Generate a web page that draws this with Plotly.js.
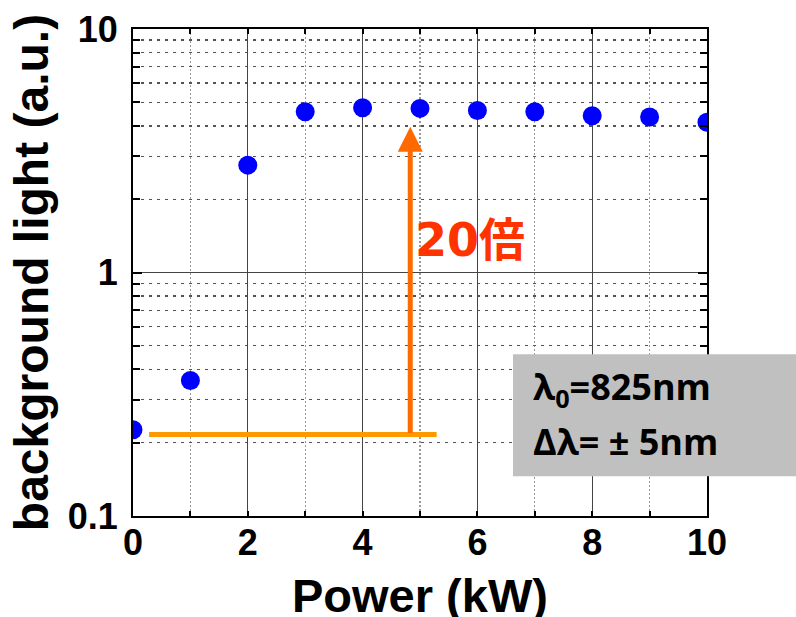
<!DOCTYPE html>
<html>
<head>
<meta charset="utf-8">
<script src="https://cdn.plot.ly/plotly-3.0.1.min.js"></script>
<style>
  html, body { margin: 0; padding: 0; background: #ffffff; }
  #chart { width: 796px; height: 617px; }
</style>
</head>
<body>
<div id="chart"></div>
<script>
// Background light versus laser power (log scale)
const powerKW = [0, 1, 2, 3, 4, 5, 6, 7, 8, 9, 10];
const backgroundLight = [0.226, 0.36, 2.76, 4.57, 4.75, 4.72, 4.63, 4.57, 4.40, 4.35, 4.14];

// Reference level at 0 kW and the ×20 rise arrow
const baseLineX = [0.28, 5.29];
const baseLineY = [0.216, 0.216];
const riseArrowX = 4.83;
const riseArrowY = [0.216, 3.97];
const riseLabel = '20倍';
const riseLabelPos = [4.88, 1.36];

// Measurement conditions
const conditionLines = ['λ<sub>0</sub>=825nm', 'Δλ= ± 5nm'];

// Axis ticks and titles
const xTitle = 'Power (kW)';
const yTitle = 'background light (a.u.)';
const xTickVals = [0, 2, 4, 6, 8, 10];
const xTickText = ['0', '2', '4', '6', '8', '10'];
const yTickVals = [0.1, 1, 10];
const yTickText = ['0.1', '1', '10'];
const yMinorVals = [0.2, 0.3, 0.4, 0.5, 0.6, 0.7, 0.8, 0.9,
                    2, 3, 4, 5, 6, 7, 8, 9];

const sans = '"Liberation Sans", Arial, sans-serif';

const traces = [
  {
    type: 'scatter', mode: 'lines',
    x: baseLineX, y: baseLineY,
    line: { color: '#ff9900', width: 5 },
    hoverinfo: 'skip', showlegend: false
  },
  {
    type: 'scatter', mode: 'markers',
    x: powerKW, y: backgroundLight,
    marker: { color: '#0000ff', size: 19, line: { width: 0 } },
    cliponaxis: true, showlegend: false
  }
];

const layout = {
  width: 796, height: 617,
  margin: { l: 133, r: 89, t: 29, b: 101, pad: 0 },
  paper_bgcolor: '#ffffff', plot_bgcolor: '#ffffff',
  showlegend: false,
  xaxis: {
    range: [0, 10],
    tickvals: xTickVals, ticktext: xTickText,
    ticks: 'inside', ticklen: 5, tickwidth: 2, tickcolor: '#000',
    showline: true, linecolor: '#000', linewidth: 2, mirror: 'allticks',
    showgrid: true, gridcolor: '#444', gridwidth: 1.3,
    zeroline: false,
    tickfont: { family: sans, size: 36, color: '#000', weight: 'bold' },
    ticklabelstandoff: -6,
    minor: {
      dtick: 1, tick0: 0,
      ticks: 'inside', ticklen: 5, tickwidth: 2, tickcolor: '#000',
      showgrid: true, gridcolor: '#999', gridwidth: 1.2, griddash: '2px,2px'
    }
  },
  yaxis: {
    type: 'log', range: [-1, 1],
    tickvals: yTickVals, ticktext: yTickText,
    ticks: 'inside', ticklen: 9, tickwidth: 2, tickcolor: '#000',
    showline: true, linecolor: '#000', linewidth: 2, mirror: 'allticks',
    showgrid: true, gridcolor: '#444', gridwidth: 1.3,
    zeroline: false,
    tickfont: { family: sans, size: 36, color: '#000', weight: 'bold' },
    ticklabelstandoff: 6,
    minor: {
      tickvals: yMinorVals,
      ticks: 'inside', ticklen: 7, tickwidth: 2, tickcolor: '#000',
      showgrid: true, gridcolor: '#555', gridwidth: 1.3, griddash: '3px,5px'
    },
    title: {
      text: yTitle, standoff: 4,
      font: { family: sans, size: 48, color: '#000', weight: 'bold' }
    }
  },
  shapes: [
    {
      type: 'rect', xref: 'paper', yref: 'paper', layer: 'above',
      x0: 0.662, x1: 1.16, y0: 0.0816, y1: 0.332,
      fillcolor: '#c0c0c0', line: { width: 0 }
    }
  ],
  annotations: [
    {
      // x-axis title, placed just below the tick labels
      xref: 'paper', yref: 'paper',
      x: 0.5, y: -0.163, xanchor: 'center', yanchor: 'middle', showarrow: false,
      text: xTitle,
      font: { family: sans, size: 47, color: '#000', weight: 'bold' }
    },
    {
      xref: 'x', yref: 'y', axref: 'x', ayref: 'y',
      x: riseArrowX, y: Math.log10(riseArrowY[1]),
      ax: riseArrowX, ay: Math.log10(riseArrowY[0]),
      text: '', showarrow: true,
      arrowhead: 2, arrowsize: 1, arrowwidth: 5, arrowcolor: '#ff6a00',
      standoff: 0, startstandoff: 0
    },
    {
      xref: 'x', yref: 'y',
      x: riseLabelPos[0], y: Math.log10(riseLabelPos[1]),
      xanchor: 'left', yanchor: 'middle', showarrow: false,
      text: riseLabel,
      font: { family: '"DejaVu Sans", "Noto Sans CJK JP", sans-serif', size: 46, color: '#ff3300', weight: 'bold' }
    },
    {
      xref: 'paper', yref: 'paper',
      x: 0.694, y: 0.262, xanchor: 'left', yanchor: 'middle', showarrow: false,
      text: conditionLines[0],
      font: { family: '"Open Sans", sans-serif', size: 36, color: '#000', weight: 'bold' }
    },
    {
      xref: 'paper', yref: 'paper',
      x: 0.694, y: 0.152, xanchor: 'left', yanchor: 'middle', showarrow: false,
      text: conditionLines[1],
      font: { family: '"Open Sans", sans-serif', size: 36, color: '#000', weight: 'bold' }
    }
  ]
};

Plotly.newPlot('chart', traces, layout, { displayModeBar: false, staticPlot: true });
</script>
</body>
</html>
